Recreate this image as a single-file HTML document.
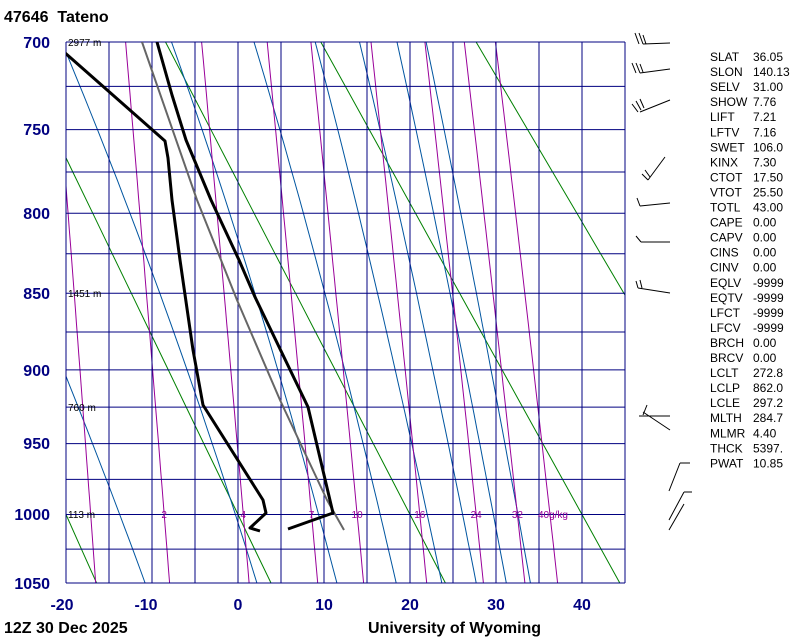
<!DOCTYPE html>
<html><head><meta charset="utf-8"><style>
html,body{margin:0;padding:0;background:#fff;}
body{width:800px;height:640px;overflow:hidden;position:relative;font-family:"Liberation Sans",sans-serif;}
svg{position:absolute;left:0;top:0;}
</style></head><body>
<svg id="s" width="800" height="640" viewBox="0 0 800 640" xmlns="http://www.w3.org/2000/svg" font-family="Liberation Sans, sans-serif">
<defs><clipPath id="c"><rect x="66" y="42" width="559" height="541"/></clipPath></defs>
<g id="bg" clip-path="url(#c)"></g>
<g id="grid"></g>
<g id="snd" clip-path="url(#c)" fill="none" stroke-linejoin="round">
<polyline points="142,42 197,200 237,300 280,400 327,500 344,530" stroke="#666" stroke-width="2"/>
<polyline points="157,42 172,95 186,140 211,200 239,260 255,297 308,407 333,513 288,529" stroke="#000" stroke-width="3"/>
<polyline points="64,52 165,141 168,158 172,200 180,260 193,350 203,405 263,500 266,513 250,528 260,531" stroke="#000" stroke-width="3"/>
</g>
<g font-size="10" fill="#000">
<text x="68" y="46">2977 m</text><text x="68" y="297">1451 m</text><text x="68" y="411">760 m</text><text x="68" y="518">113 m</text>
</g>
<g font-size="16" font-weight="bold" fill="#000080" text-anchor="end">
<text x="50" y="48">700</text><text x="50" y="135">750</text><text x="50" y="219">800</text><text x="50" y="299">850</text><text x="50" y="376">900</text><text x="50" y="449">950</text><text x="50" y="520">1000</text><text x="50" y="589">1050</text>
</g>
<g font-size="16" font-weight="bold" fill="#000080" text-anchor="middle">
<text x="62" y="610">-20</text><text x="146" y="610">-10</text><text x="238" y="610">0</text><text x="324" y="610">10</text><text x="410" y="610">20</text><text x="496" y="610">30</text><text x="582" y="610">40</text>
</g>
<g font-size="16" font-weight="bold" fill="#000">
<text x="4" y="22">47646&#160;&#160;Tateno</text>
<text x="4" y="633">12Z 30 Dec 2025</text>
<text x="368" y="633">University of Wyoming</text>
</g>
<g stroke="#000" stroke-width="1" fill="none">
<path d="M643,44 L670,43 M635,33 L639,44 M639,33 L643,44 M643,35 L646,44"/>
<path d="M640,73 L670,69 M632,63 L636,73 M636,63 L640,73 M640,64 L643,72"/>
<path d="M640,112 L670,100 M632,104 L638,112 M636,101 L641,110 M640,99 L644,108"/>
<path d="M648,180 L665,157 M642,174 L648,180 M645,170 L650,177"/>
<path d="M640,206 L670,203 M637,198 L640,206"/>
<path d="M641,242 L670,242 M636,236 L641,242"/>
<path d="M638,288 L670,293 M636,281 L638,288 M640,280 L642,288"/>
<path d="M639,416 L670,416 M643,412 L670,430 M647,405 L643,415"/>
<path d="M680,463 L690,463 M680,463 L669,491"/>
<path d="M684,492 L692,492 M684,492 L669,520 M684,504 L669,530"/>
</g>
<g id="tbl" font-size="12" fill="#000"></g>
</svg>
<script>
(function(){
var NS="http://www.w3.org/2000/svg";
function el(p,n,a){var e=document.createElementNS(NS,n);for(var k in a)e.setAttribute(k,a[k]);p.appendChild(e);return e;}
var K=0.286,P0=Math.pow(700,K),P1=Math.pow(1050,K);
function Y(p){return 42+541*(Math.pow(p,K)-P0)/(P1-P0);}
function X(t){return 66+8.6*(t+20);}
var bg=document.getElementById('bg'),grid=document.getElementById('grid');
[-40,-20,0,20,40,60,80].forEach(function(th){
 var pts=[];for(var p=700;p<=1050;p+=25){var T=(th+273.15)*Math.pow(p/1000,K)-273.15;pts.push(X(T).toFixed(1)+","+Y(p).toFixed(1));}
 el(bg,'polyline',{points:pts.join(' '),stroke:'#008000','stroke-width':1,fill:'none'});
});
function es(T){return 6.112*Math.exp(17.67*T/(T+243.5));}
[-10.8,2.2,11.5,18.4,23.7,27.7,31.2,34.0].forEach(function(t0){
 var T=t0+273.15,p=1050,pts=[X(t0).toFixed(1)+","+Y(p).toFixed(1)];
 while(p>700){var dp=-2;var e=es(T-273.15),rs=0.622*e/(p-e),Lv=2.5e6,Rd=287,Cp=1005;
  var d=(Rd*T+Lv*rs)/(p*(Cp+Lv*Lv*rs*0.622/(Rd*T*T)));T+=d*dp;p+=dp;
  if(p%10==0)pts.push(X(T-273.15).toFixed(1)+","+Y(p).toFixed(1));}
 el(bg,'polyline',{points:pts.join(' '),stroke:'#0055a0','stroke-width':1,fill:'none'});
});
function td(w,p){var e=w*p/(622+w);var l=Math.log(e/6.112);return 243.5*l/(17.67-l);}
[1,2,4,7,10,16,24,32,40].forEach(function(w){
 var pts=[];for(var p=700;p<=1050;p+=10)pts.push(X(td(w,p)).toFixed(1)+","+Y(p).toFixed(1));
 el(bg,'polyline',{points:pts.join(' '),stroke:'#990099','stroke-width':1,fill:'none'});
});
for(var t=-20;t<=45;t+=5){var x=X(t);el(grid,'line',{x1:x,y1:42,x2:x,y2:583,stroke:'#000080','stroke-width':1});}
for(var p=700;p<=1050;p+=25){var y=Y(p);el(grid,'line',{x1:66,y1:y,x2:625,y2:y,stroke:'#000080','stroke-width':1});}
var lab=[[2,'2'],[4,'4'],[7,'7'],[10,'10'],[16,'16'],[24,'24'],[32,'32']];
lab.forEach(function(a){var t=el(grid,'text',{x:X(td(a[0],1000)).toFixed(1),y:518,'font-size':10,fill:'#990099','text-anchor':'middle'});t.textContent=a[1];});
var t4=el(grid,'text',{x:X(td(40,1000))-12,y:518,'font-size':10,fill:'#990099'});t4.textContent='40g/kg';
var rows=[["SLAT","36.05"],["SLON","140.13"],["SELV","31.00"],["SHOW","7.76"],["LIFT","7.21"],["LFTV","7.16"],["SWET","106.0"],["KINX","7.30"],["CTOT","17.50"],["VTOT","25.50"],["TOTL","43.00"],["CAPE","0.00"],["CAPV","0.00"],["CINS","0.00"],["CINV","0.00"],["EQLV","-9999"],["EQTV","-9999"],["LFCT","-9999"],["LFCV","-9999"],["BRCH","0.00"],["BRCV","0.00"],["LCLT","272.8"],["LCLP","862.0"],["LCLE","297.2"],["MLTH","284.7"],["MLMR","4.40"],["THCK","5397."],["PWAT","10.85"]];
var tb=document.getElementById('tbl');
rows.forEach(function(r,i){var y=61+i*15.05;var a=el(tb,'text',{x:710,y:y});a.textContent=r[0];var b=el(tb,'text',{x:753,y:y});b.textContent=r[1];});
})();
</script>
</body></html>
